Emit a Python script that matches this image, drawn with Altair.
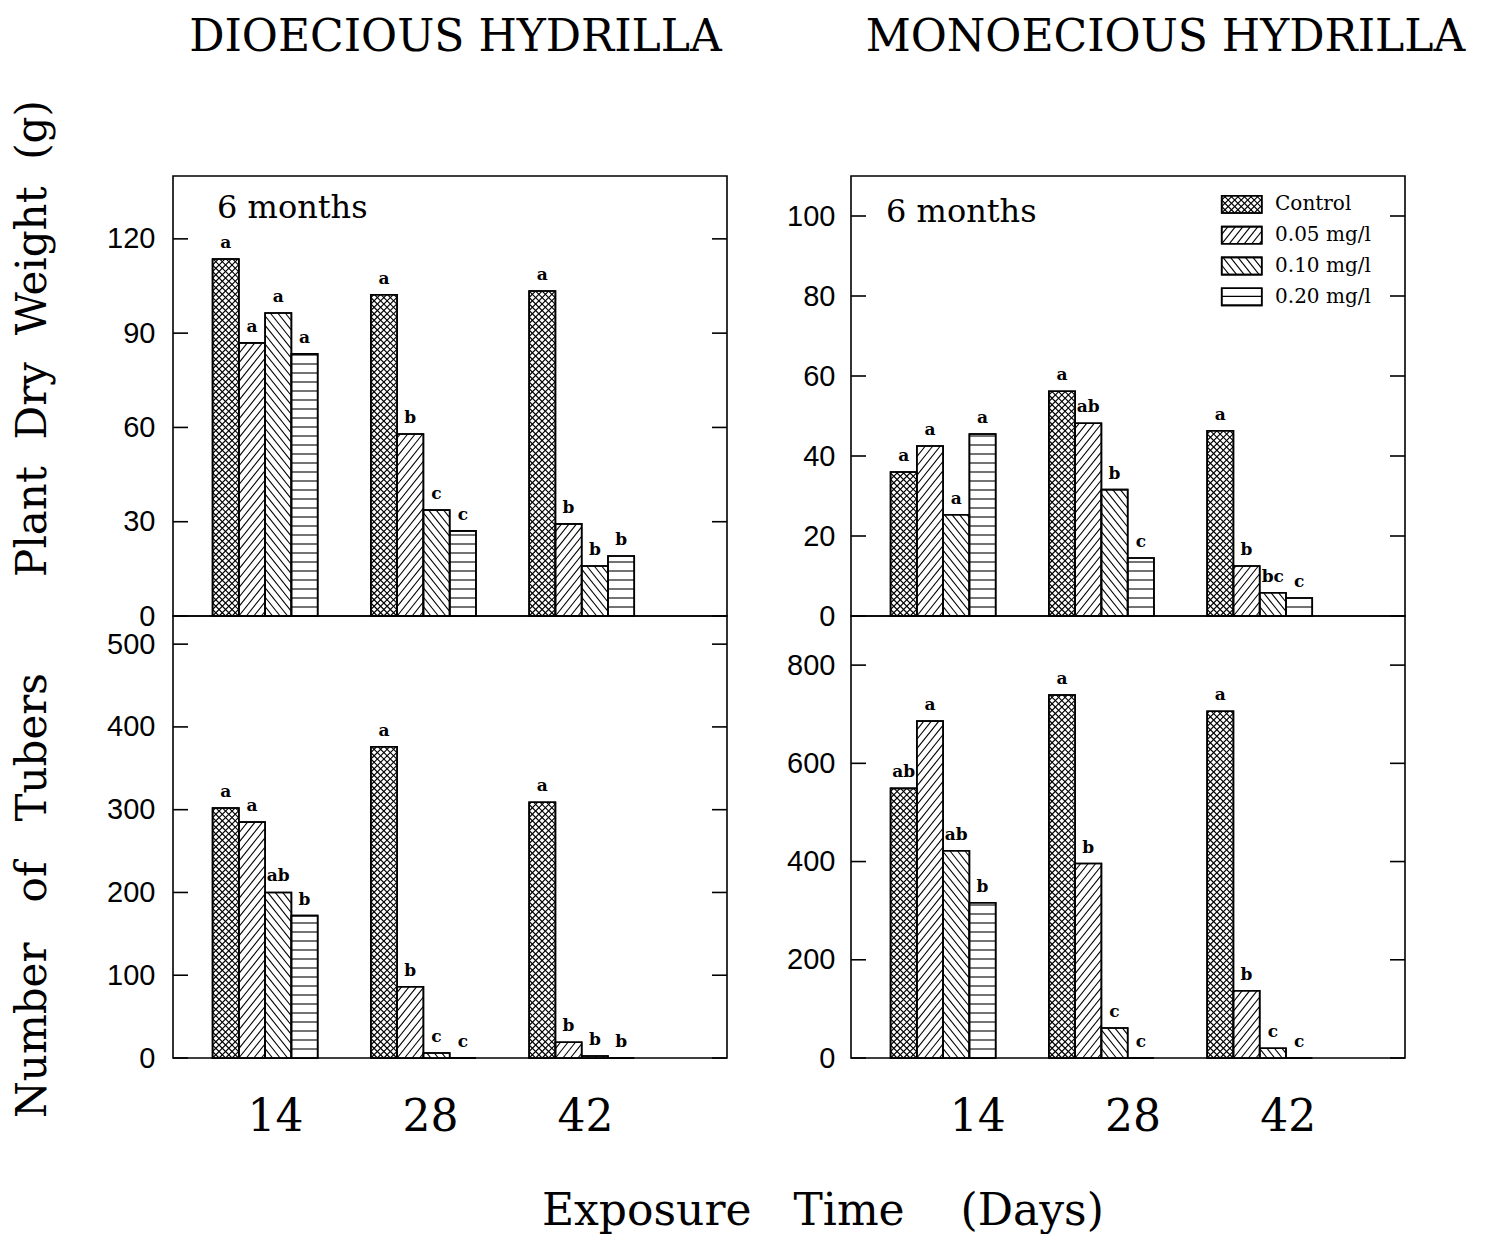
import altair as alt
import pandas as pd

# ---------------- data ----------------
DAYS = ["14", "28", "42"]
TREATMENTS = ["Control", "0.05 mg/l", "0.10 mg/l", "0.20 mg/l"]
AGE_LABEL = ["6 months"]

DIO_WEIGHT = [[113.6, 86.9, 96.4, 83.4], [102.2, 57.9, 33.7, 27.1], [103.4, 29.3, 15.9, 19.1]]
DIO_WEIGHT_LETTERS = [["a", "a", "a", "a"], ["a", "b", "c", "c"], ["a", "b", "b", "b"]]
DIO_TUBERS = [[302, 285, 200, 172], [376, 86, 6, 0], [309, 19, 2.4, 0]]
DIO_TUBERS_LETTERS = [["a", "a", "ab", "b"], ["a", "b", "c", "c"], ["a", "b", "b", "b"]]

MONO_WEIGHT = [[36.0, 42.5, 25.3, 45.5], [56.2, 48.2, 31.6, 14.5], [46.3, 12.5, 5.8, 4.5]]
MONO_WEIGHT_LETTERS = [["a", "a", "a", "a"], ["a", "ab", "b", "c"], ["a", "b", "bc", "c"]]
MONO_TUBERS = [[549, 686, 422, 316], [739, 396, 61, 0], [706, 137, 20, 0]]
MONO_TUBERS_LETTERS = [["ab", "a", "ab", "b"], ["a", "b", "c", "c"], ["a", "b", "c", "c"]]

DIO_WEIGHT_TICKS = [0, 30, 60, 90, 120]
DIO_TUBER_TICKS = [0, 100, 200, 300, 400, 500]
MONO_WEIGHT_TICKS = [0, 20, 40, 60, 80, 100]
MONO_TUBER_TICKS = [0, 200, 400, 600, 800]

X_TITLE = "Exposure\u00a0\u00a0\u00a0Time\u00a0\u00a0\u00a0\u00a0(Days)"

# ---------------- layout constants ----------------
W = 554
H_TOP = 440
H_BOT = 442
XMAX = 3.5
KX = W / XMAX
BAR_W = 0.166
GROUP_START = 0.25
TICK_LEN = 15

SERIF = "DejaVu Serif"
SANS = "Liberation Sans"
DAYS_JS = "[" + ",".join("'%s'" % d for d in DAYS) + "]"


def xscale():
    return alt.Scale(domain=[0, XMAX], nice=False, zero=False)


def yscale(ymax):
    return alt.Scale(domain=[0, ymax], nice=False, zero=True)


class Ctx:
    def __init__(self, ymax, height, xaxis, yaxis):
        self.ymax = ymax
        self.ky = height / ymax
        self.xaxis = xaxis
        self.yaxis = yaxis

    def X(self, f):
        return alt.X(f, scale=xscale(), axis=self.xaxis)

    def Y(self, f):
        return alt.Y(f, scale=yscale(self.ymax), axis=self.yaxis)


def hatch_layer(base, ctx, kind, s, m, test):
    ky = ctx.ky
    ch = base.transform_filter(test).transform_calculate(
        w=f"(datum.x1 - datum.x0) * {KX}",
        h=f"(datum.y1 - datum.y0) * {ky}",
    )
    if kind == "slash":
        ch = ch.transform_calculate(
            cs=f"sequence(-floor(datum.h / {m} / {s}) * {s}, datum.w, {s})")
        ch = ch.transform_flatten(["cs"])
        ch = ch.transform_calculate(xa="max(0, datum.cs)")
        ch = ch.transform_calculate(xb=f"min(datum.w, datum.cs + datum.h / {m})")
        ch = ch.transform_calculate(ya=f"{m} * (datum.xa - datum.cs)")
        ch = ch.transform_calculate(yb=f"{m} * (datum.xb - datum.cs)")
    elif kind == "back":
        ch = ch.transform_calculate(
            cs=f"sequence({s}, datum.w + datum.h / {m}, {s})")
        ch = ch.transform_flatten(["cs"])
        ch = ch.transform_calculate(xa=f"max(0, datum.cs - datum.h / {m})")
        ch = ch.transform_calculate(xb="min(datum.w, datum.cs)")
        ch = ch.transform_calculate(ya=f"{m} * (datum.cs - datum.xa)")
        ch = ch.transform_calculate(yb=f"{m} * (datum.cs - datum.xb)")
    else:
        ch = ch.transform_calculate(cs=f"sequence({s}, datum.h - 1, {s})")
        ch = ch.transform_flatten(["cs"])
        ch = ch.transform_calculate(xa="0")
        ch = ch.transform_calculate(xb="datum.w")
        ch = ch.transform_calculate(ya="datum.cs")
        ch = ch.transform_calculate(yb="datum.cs")
    ch = ch.transform_filter("datum.xb - datum.xa > 0.3")
    ch = ch.transform_calculate(
        hx1=f"datum.x0 + datum.xa / {KX}",
        hx2=f"datum.x0 + datum.xb / {KX}",
        hy1=f"datum.y0 + datum.ya / {ky}",
        hy2=f"datum.y0 + datum.yb / {ky}",
    )
    return ch.mark_rule(color="black", strokeWidth=1.1).encode(
        x=ctx.X("hx1:Q"), x2="hx2:Q", y=ctx.Y("hy1:Q"), y2="hy2:Q",
    )


def hatch_all(base, ctx):
    return [
        hatch_layer(base, ctx, "slash", 6.5, 1.0, "datum.t == 0"),
        hatch_layer(base, ctx, "back", 6.5, 1.0, "datum.t == 0"),
        hatch_layer(base, ctx, "slash", 7.5, 1.25, "datum.t == 1"),
        hatch_layer(base, ctx, "back", 7.5, 1.25, "datum.t == 2"),
        hatch_layer(base, ctx, "horiz", 9, 1.0, "datum.t == 3"),
    ]


def panel(values, letters, ticks, ymax, height, xaxis, yaxis, age_xy, legend=False):
    ctx = Ctx(ymax, height, xaxis, yaxis)
    rows = [{"g": gi, "t": ti, "value": values[gi][ti], "letter": letters[gi][ti]}
            for gi in range(len(DAYS)) for ti in range(len(TREATMENTS))]
    base = alt.Chart(pd.DataFrame(rows)).transform_calculate(
        x0=f"{GROUP_START} + datum.g + datum.t * {BAR_W}",
        x1=f"{GROUP_START} + datum.g + (datum.t + 1) * {BAR_W}",
        y0="0",
        y1="datum.value",
    )
    bars = base.mark_rect(fill="white", stroke="black", strokeWidth=1.6).encode(
        x=ctx.X("x0:Q"), x2="x1:Q", y=ctx.Y("y1:Q"), y2="y0:Q")
    outline = base.mark_rect(fillOpacity=0, stroke="black", strokeWidth=1.6).encode(
        x=ctx.X("x0:Q"), x2="x1:Q", y=ctx.Y("y1:Q"), y2="y0:Q")
    text = base.transform_calculate(xc="(datum.x0 + datum.x1) / 2").mark_text(
        dy=-7, baseline="bottom", font=SERIF, fontSize=17, fontWeight="bold", color="black"
    ).encode(x=ctx.X("xc:Q"), y=ctx.Y("y1:Q"), text="letter:N")
    tdf = alt.Chart(pd.DataFrame({"v": ticks}))
    tick_l = tdf.mark_rule(color="black", strokeWidth=1.6).encode(
        y=ctx.Y("v:Q"), x=alt.value(0), x2=alt.value(TICK_LEN))
    tick_r = tdf.mark_rule(color="black", strokeWidth=1.6).encode(
        y=ctx.Y("v:Q"), x=alt.value(W - TICK_LEN), x2=alt.value(W))
    layers = [bars] + hatch_all(base, ctx) + [outline, text, tick_l, tick_r]
    if age_xy is not None:
        age = alt.Chart(pd.DataFrame({"label": AGE_LABEL})).mark_text(
            align="left", baseline="alphabetic", font=SERIF, fontSize=32, color="black"
        ).encode(x=alt.value(age_xy[0]), y=alt.value(age_xy[1]), text="label:N")
        layers.append(age)
    if legend:
        leg = alt.Chart(pd.DataFrame({"t": list(range(len(TREATMENTS))), "label": TREATMENTS})).transform_calculate(
            x0="2.342",
            x1="2.595",
            yc="102.9 - datum.t * 7.7",
        ).transform_calculate(
            y0="datum.yc - 2.15",
            y1="datum.yc + 2.15",
            xl="2.679",
        )
        sw = leg.mark_rect(fill="white", stroke="black", strokeWidth=1.6).encode(
            x=ctx.X("x0:Q"), x2="x1:Q", y=ctx.Y("y1:Q"), y2="y0:Q")
        sw2 = leg.mark_rect(fillOpacity=0, stroke="black", strokeWidth=1.6).encode(
            x=ctx.X("x0:Q"), x2="x1:Q", y=ctx.Y("y1:Q"), y2="y0:Q")
        lt = leg.mark_text(align="left", baseline="middle", font=SERIF, fontSize=20, color="black").encode(
            x=ctx.X("xl:Q"), y=ctx.Y("yc:Q"), text="label:N")
        layers += [sw] + hatch_all(leg, ctx) + [sw2, lt]
    return alt.layer(*layers).properties(width=W, height=height)


def top_xaxis(title, tx):
    return alt.Axis(orient="top", labels=False, ticks=False, domain=False, grid=False, title=title,
                    titleX=tx, titleY=-126, titleAlign="center", titleBaseline="alphabetic",
                    titleFont=SERIF, titleFontSize=44, titleFontWeight="normal", titleColor="black")


def bottom_xaxis(label_pos):
    return alt.Axis(orient="bottom", values=label_pos, labelExpr=f"{DAYS_JS}[floor(datum.value)]",
                    labelFont=SERIF, labelFontSize=44, labelColor="black", labelPadding=37,
                    labelFlush=False, labelBaseline="top", labelAlign="center",
                    ticks=False, domain=False, grid=False, title=None)


def yaxis(ticks, pad, title=None, ty=0):
    kw = dict(values=ticks, labelFont=SANS, labelFontSize=29, labelColor="black",
              labelPadding=pad, ticks=False, domain=False, grid=False)
    if title is not None:
        kw.update(title=title, titleX=-128, titleY=ty, titleAngle=270, titleAlign="center",
                  titleBaseline="alphabetic", titleFont=SERIF, titleFontSize=42,
                  titleFontWeight="normal", titleColor="black")
    else:
        kw.update(title=None)
    return alt.Axis(**kw)


TL = panel(DIO_WEIGHT, DIO_WEIGHT_LETTERS, DIO_WEIGHT_TICKS, 140, H_TOP,
           top_xaxis("DIOECIOUS\u00a0HYDRILLA", 282),
           yaxis(DIO_WEIGHT_TICKS, 18, "Plant\u00a0\u00a0Dry\u00a0\u00a0Weight\u00a0\u00a0(g)", 162), (44, 42))
BL = panel(DIO_TUBERS, DIO_TUBERS_LETTERS, DIO_TUBER_TICKS, 534, H_BOT,
           bottom_xaxis([0.644, 1.623, 2.603]),
           yaxis(DIO_TUBER_TICKS, 18, "Number\u00a0\u00a0\u00a0of\u00a0\u00a0\u00a0Tubers", 279), None)
TR = panel(MONO_WEIGHT, MONO_WEIGHT_LETTERS, MONO_WEIGHT_TICKS, 110, H_TOP,
           top_xaxis("MONOECIOUS\u00a0HYDRILLA", 314),
           yaxis(MONO_WEIGHT_TICKS, 16), (35, 46), legend=True)
BR = panel(MONO_TUBERS, MONO_TUBERS_LETTERS, MONO_TUBER_TICKS, 900, H_BOT,
           bottom_xaxis([0.797, 1.778, 2.759]),
           yaxis(MONO_TUBER_TICKS, 16), None)

left = alt.vconcat(TL, BL, spacing=0, bounds="flush")
right = alt.vconcat(TR, BR, spacing=0, bounds="flush")
chart = alt.hconcat(left, right, spacing=56).properties(
    padding={"left": 2, "top": 6, "right": 5, "bottom": 0},
    background="white",
    title=alt.TitleParams(X_TITLE, orient="bottom", anchor="middle", dx=85, offset=50,
                          font=SERIF, fontSize=44, fontWeight="normal", color="black"),
).configure_view(stroke="black", strokeWidth=1.6).configure_axis(grid=False)

chart.save("out.html", embed_options={"renderer": "svg", "actions": False})
